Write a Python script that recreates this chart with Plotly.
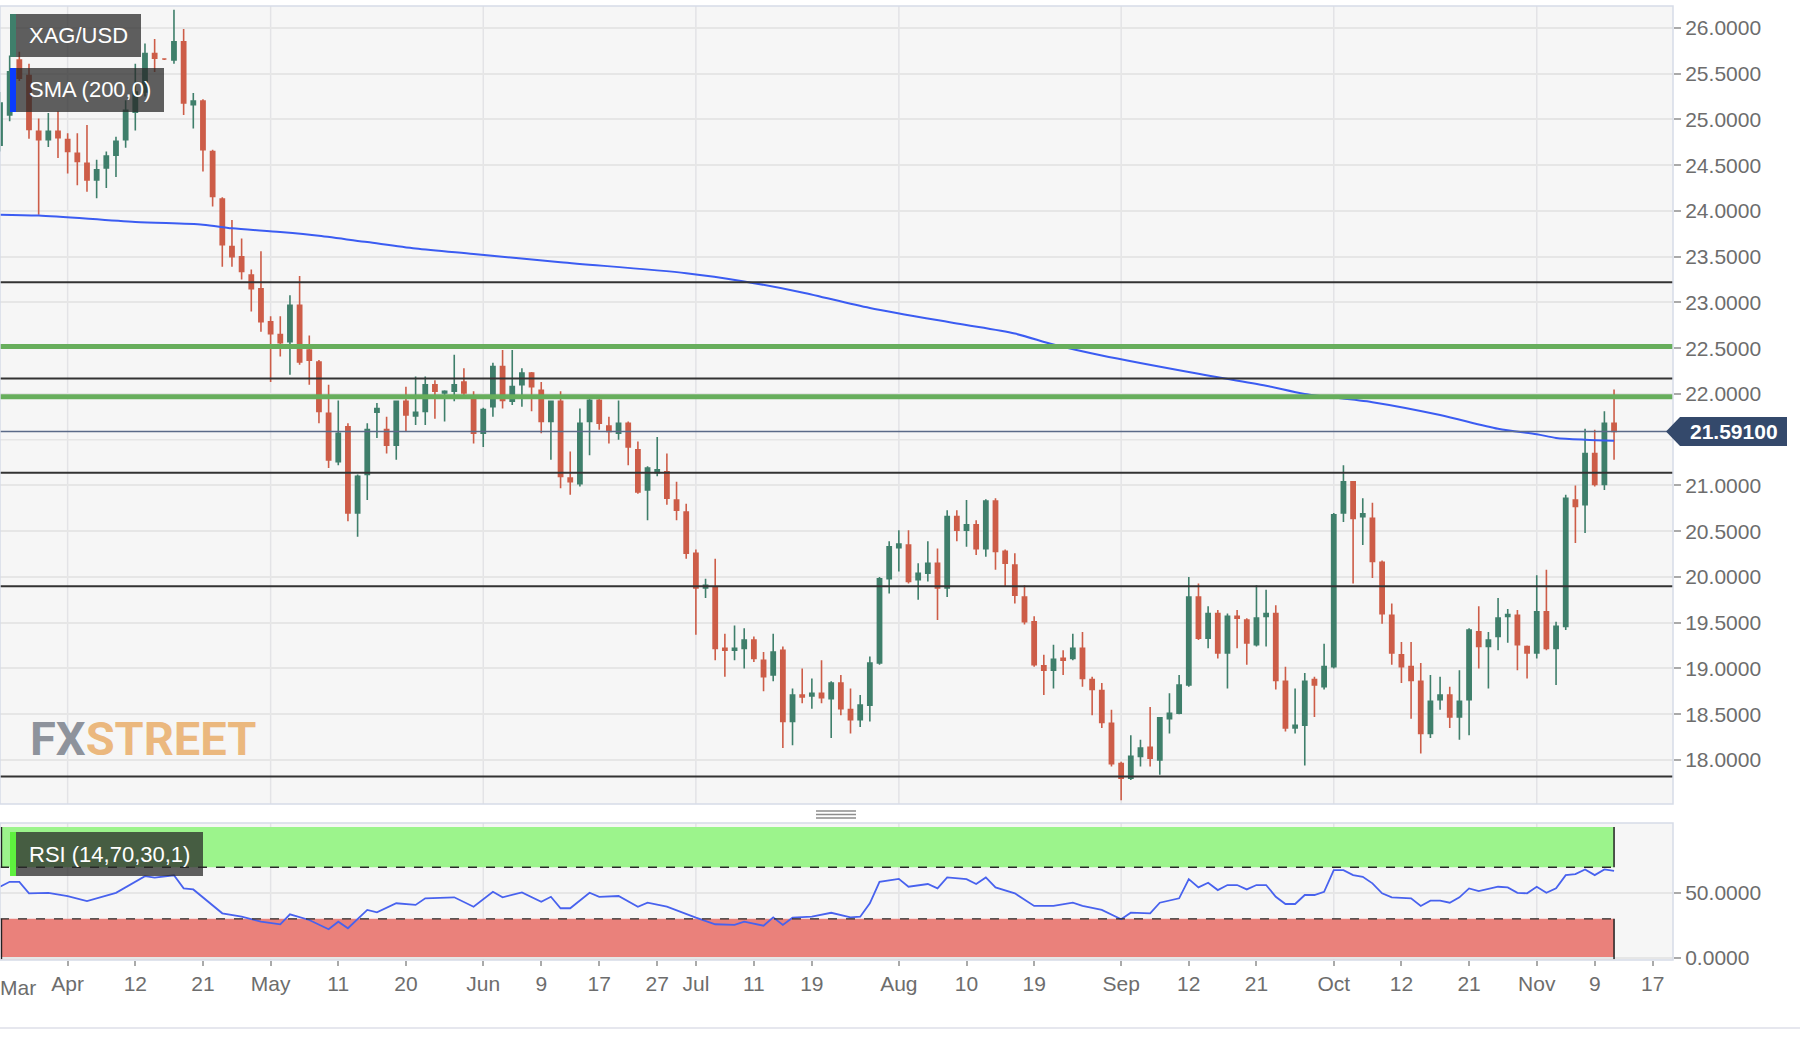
import plotly.graph_objects as go
import pandas as pd

# ---------------- data ----------------
start_date = "2022-03-23"
end_date = "2022-11-18"
dates = pd.bdate_range(start_date, end_date)          # weekday categories

open_ = [24.72, 25.05, 25.65, 25.48, 24.87, 24.78, 24.87, 24.78, 24.63, 24.52,
         24.34, 24.47, 24.61, 24.78, 25.08, 25.30, 25.72, 25.66, 25.65, 25.85,
         25.16, 25.20, 24.65, 24.13, 23.61, 23.50, 23.30, 23.15, 22.79, 22.65,
         22.57, 22.97, 22.48, 22.35, 21.79, 21.26, 21.64, 20.70, 21.12, 21.80,
         21.61, 21.44, 21.92, 21.76, 21.81, 22.10, 22.01, 22.03, 22.13, 21.95,
         21.57, 21.86, 22.30, 21.92, 22.10, 22.23, 22.04, 21.70, 21.92, 21.08,
         21.02, 21.70, 21.93, 21.65, 21.57, 21.68, 21.39, 20.95, 21.14, 21.15,
         20.84, 20.71, 20.26, 19.88, 19.89, 19.22, 19.20, 19.22, 19.31, 19.09,
         18.93, 19.20, 18.42, 18.71, 18.70, 18.73, 18.67, 18.84, 18.55, 18.44,
         18.60, 19.06, 19.98, 20.32, 20.35, 19.97, 20.04, 20.15, 19.88, 20.66,
         20.51, 20.57, 20.31, 20.83, 20.28, 20.13, 19.78, 19.51, 19.03, 18.98,
         19.11, 19.11, 19.22, 18.88, 18.76, 18.40, 17.96, 17.80, 18.04, 18.14,
         18.00, 18.45, 18.51, 18.82, 19.78, 19.33, 19.60, 19.17, 19.57, 19.53,
         19.26, 19.57, 19.60, 18.86, 18.35, 18.38, 18.88, 18.80, 19.02, 20.70,
         21.04, 20.66, 20.64, 20.16, 19.58, 19.15, 19.02, 18.86, 18.29, 18.66,
         18.71, 18.47, 18.66, 19.40, 19.24, 19.35, 19.57, 19.58, 19.24, 19.17,
         19.62, 19.22, 19.46, 20.84, 20.79, 21.35, 21.01, 21.68]
high = [25.30, 25.70, 25.74, 25.61, 25.01, 25.07, 25.09, 24.85, 24.85, 24.94,
        24.56, 24.65, 24.81, 25.21, 25.61, 25.83, 25.88, 25.67, 26.20, 25.99,
        25.29, 25.22, 24.67, 24.15, 23.90, 23.70, 23.36, 23.56, 22.85, 22.85,
        23.08, 23.29, 22.64, 22.37, 22.10, 21.93, 21.68, 21.12, 21.68, 21.90,
        21.75, 21.93, 22.08, 22.19, 22.19, 22.15, 22.04, 22.43, 22.28, 22.03,
        21.85, 22.34, 22.48, 22.48, 22.28, 22.24, 22.13, 21.93, 22.03, 21.37,
        21.84, 21.95, 21.95, 21.75, 21.93, 21.70, 21.48, 21.21, 21.53, 21.35,
        21.04, 20.80, 20.30, 19.98, 20.20, 19.38, 19.47, 19.44, 19.35, 19.18,
        19.38, 19.24, 18.78, 19.00, 18.89, 19.09, 18.86, 18.93, 18.78, 18.71,
        19.13, 20.00, 20.39, 20.51, 20.51, 20.15, 20.39, 20.31, 20.73, 20.73,
        20.84, 20.62, 20.85, 20.86, 20.30, 20.26, 19.91, 19.57, 19.15, 19.26,
        19.20, 19.38, 19.40, 18.91, 18.84, 18.55, 17.98, 18.27, 18.22, 18.58,
        18.47, 18.73, 18.93, 20.00, 19.93, 19.68, 19.64, 19.60, 19.64, 19.55,
        19.91, 19.86, 19.69, 19.02, 18.78, 18.95, 18.91, 19.27, 20.70, 21.22,
        21.05, 20.86, 20.81, 20.18, 19.71, 19.29, 19.29, 19.06, 18.93, 18.91,
        18.80, 18.98, 19.44, 19.68, 19.40, 19.77, 19.65, 19.64, 19.25, 20.02,
        20.08, 19.51, 20.90, 21.00, 21.62, 21.61, 21.81, 22.05]
low = [24.65, 24.98, 25.42, 24.79, 23.96, 24.70, 24.58, 24.41, 24.28, 24.21,
       24.14, 24.25, 24.37, 24.69, 24.88, 25.25, 25.52, 25.65, 25.61, 25.05,
       24.90, 24.43, 24.05, 23.39, 23.39, 23.25, 22.90, 22.68, 22.13, 22.41,
       22.21, 22.32, 22.10, 21.68, 21.19, 21.22, 20.61, 20.44, 20.84, 21.52,
       21.35, 21.28, 21.59, 21.66, 21.66, 21.73, 21.70, 21.92, 21.97, 21.46,
       21.42, 21.75, 21.84, 21.88, 21.86, 21.81, 21.57, 21.28, 20.97, 20.90,
       20.99, 21.33, 21.61, 21.46, 21.50, 21.22, 20.91, 20.62, 21.10, 20.79,
       20.62, 20.20, 19.37, 19.77, 19.09, 18.91, 19.09, 19.00, 19.07, 18.75,
       18.86, 18.13, 18.16, 18.62, 18.56, 18.62, 18.24, 18.49, 18.29, 18.36,
       18.42, 19.04, 19.82, 20.06, 19.93, 19.75, 19.95, 19.53, 19.78, 20.39,
       20.33, 20.24, 20.22, 20.08, 19.89, 19.71, 19.48, 19.02, 18.71, 18.78,
       18.93, 19.09, 18.80, 18.49, 18.35, 17.93, 17.56, 17.78, 17.93, 17.93,
       17.84, 18.29, 18.50, 18.80, 19.31, 19.22, 19.11, 18.78, 19.22, 19.04,
       19.24, 19.24, 18.77, 18.31, 18.29, 17.94, 18.47, 18.77, 19.00, 20.60,
       19.93, 20.35, 19.99, 19.49, 19.04, 18.84, 18.45, 18.07, 18.24, 18.55,
       18.35, 18.22, 18.27, 19.00, 18.78, 19.20, 19.28, 18.98, 18.89, 19.11,
       19.20, 18.82, 19.42, 20.37, 20.48, 20.99, 20.95, 21.28]
close = [25.18, 25.52, 25.45, 24.89, 24.78, 24.87, 24.80, 24.65, 24.54, 24.34,
         24.45, 24.60, 24.76, 25.10, 25.30, 25.72, 25.67, 25.66, 25.85, 25.18,
         25.20, 24.67, 24.16, 23.63, 23.50, 23.34, 23.15, 22.79, 22.66, 22.56,
         22.97, 22.35, 22.37, 21.81, 21.28, 21.57, 20.70, 21.10, 21.61, 21.84,
         21.44, 21.92, 21.77, 21.80, 22.10, 22.03, 22.03, 22.10, 22.01, 21.57,
         21.83, 22.30, 21.93, 22.08, 22.23, 22.08, 21.70, 21.92, 21.10, 21.04,
         21.68, 21.93, 21.68, 21.59, 21.68, 21.42, 20.93, 21.19, 21.17, 20.86,
         20.73, 20.26, 19.88, 19.91, 19.22, 19.20, 19.22, 19.31, 19.11, 18.91,
         19.18, 18.42, 18.71, 18.69, 18.73, 18.68, 18.84, 18.56, 18.44, 18.60,
         19.06, 19.98, 20.33, 20.36, 19.95, 20.04, 20.15, 19.88, 20.66, 20.51,
         20.57, 20.31, 20.83, 20.28, 20.15, 19.80, 19.51, 19.04, 18.98, 19.10,
         19.09, 19.22, 18.89, 18.77, 18.41, 17.96, 17.80, 18.04, 18.13, 18.02,
         18.46, 18.51, 18.82, 19.78, 19.33, 19.60, 19.17, 19.57, 19.55, 19.28,
         19.55, 19.60, 18.87, 18.35, 18.38, 18.86, 18.82, 19.02, 20.68, 21.04,
         20.64, 20.69, 20.17, 19.60, 19.17, 19.02, 18.87, 18.29, 18.64, 18.71,
         18.47, 18.64, 19.42, 19.24, 19.31, 19.55, 19.59, 19.26, 19.17, 19.62,
         19.22, 19.46, 20.86, 20.77, 21.35, 21.01, 21.68, 21.591]

# SMA(200) read at selected candles (candle index, value)
sma_idx = [0, 4, 14, 21, 24, 29, 33, 38, 43, 49, 58, 71, 77, 83, 90, 99, 105,
           109, 114, 124, 131, 135, 142, 149, 155, 159, 161, 164, 167]
sma_val = [23.96, 23.95, 23.88, 23.85, 23.81, 23.77, 23.73, 23.66, 23.59, 23.53,
           23.44, 23.32, 23.23, 23.11, 22.94, 22.77, 22.66, 22.54, 22.42, 22.22,
           22.09, 22.00, 21.91, 21.77, 21.62, 21.56, 21.52, 21.50, 21.49]

# RSI(14) read at selected candles
rsi_idx = [0, 1, 2, 3, 5, 7, 9, 12, 15, 16, 18, 19, 20, 23, 25, 27, 29, 30, 32,
           34, 35, 36, 38, 39, 41, 43, 44, 47, 49, 51, 52, 54, 56, 57, 58, 59,
           61, 62, 64, 66, 67, 69, 72, 74, 76, 77, 79, 80, 81, 82, 84, 86, 88,
           89, 90, 91, 93, 94, 96, 97, 98, 100, 101, 102, 103, 105, 107, 109,
           111, 112, 114, 116, 117, 119, 120, 122, 123, 124, 125, 126, 127, 128,
           129, 130, 131, 132, 133, 134, 135, 136, 137, 138, 139, 140, 141, 142,
           143, 144, 146, 147, 148, 149, 150, 151, 152, 153, 155, 156, 157, 158,
           159, 160, 161, 162, 163, 164, 165, 166, 167]
rsi_val = [54.9, 58.7, 58.7, 49.8, 50.2, 47.7, 43.8, 50.2, 63.1, 62.0, 63.8, 53.6,
           52.8, 34.3, 31.7, 27.8, 25.8, 33.5, 29.1, 21.9, 27.8, 22.7, 36.9, 35.1,
           42.1, 40.8, 45.9, 46.7, 39.4, 51.0, 46.7, 50.5, 43.3, 47.1, 38.2, 38.2,
           50.2, 47.1, 47.7, 39.4, 42.5, 39.4, 30.9, 25.8, 25.3, 27.8, 24.7, 31.2,
           25.3, 30.9, 31.7, 34.7, 31.2, 31.7, 42.0, 58.7, 61.0, 54.9, 57.0, 53.6,
           62.1, 60.8, 57.0, 62.1, 54.4, 49.8, 40.0, 40.0, 42.5, 40.0, 36.9, 29.7,
           34.8, 34.3, 42.5, 45.9, 60.8, 54.4, 58.0, 52.3, 56.2, 56.2, 52.8, 56.2,
           56.2, 47.1, 41.5, 41.5, 48.5, 48.5, 51.0, 67.8, 67.8, 63.9, 62.6, 57.5,
           49.8, 46.7, 45.9, 40.0, 44.1, 44.1, 42.5, 46.7, 53.6, 51.5, 54.9, 54.4,
           50.2, 49.8, 54.9, 50.2, 53.6, 63.9, 64.7, 68.3, 63.9, 68.3, 67.2]

tick_dates = ["2022-04-01", "2022-04-12", "2022-04-21", "2022-05-02", "2022-05-11",
              "2022-05-20", "2022-06-01", "2022-06-09", "2022-06-17", "2022-06-27",
              "2022-07-01", "2022-07-11", "2022-07-19", "2022-08-01", "2022-08-10",
              "2022-08-19", "2022-09-01", "2022-09-12", "2022-09-21", "2022-10-03",
              "2022-10-12", "2022-10-21", "2022-11-01", "2022-11-09", "2022-11-17"]
tick_text = ["Apr", "12", "21", "May", "11", "20", "Jun", "9", "17", "27", "Jul",
             "11", "19", "Aug", "10", "19", "Sep", "12", "21", "Oct", "12", "21",
             "Nov", "9", "17"]
month_dates = ["2022-04-01", "2022-05-02", "2022-06-01", "2022-07-01",
               "2022-08-01", "2022-09-01", "2022-10-03", "2022-11-01"]

# price-axis labels (21.5 sits under the last-price tag, so it is not labelled)
price_ticks = [18.0, 18.5, 19.0, 19.5, 20.0, 20.5, 21.0, 22.0, 22.5, 23.0,
               23.5, 24.0, 24.5, 25.0, 25.5, 26.0]
hidden_grid = [21.5]

black_levels = [23.22, 22.17, 21.14, 19.90, 17.82]
green_levels = [22.52, 21.97]
last_price = 21.591
rsi_upper, rsi_lower = 70, 30

# ---------------- geometry helpers ----------------
W, H = 1800, 1046
ML, MR, MT, MB = 0, 127, 6, 86
PW, PH = W - ML - MR, H - MT - MB


def px(x):
    return (x - ML) / PW


def py(y):
    return (H - MB - y) / PH


pos = {d.strftime("%Y-%m-%d"): i for i, d in enumerate(dates)}
tickvals = [pos[d] for d in tick_dates]
monthvals = [pos[d] for d in month_dates]
xs = list(range(len(close)))
last_i = xs[-1]

FONT = "Liberation Sans, Arial, Helvetica, sans-serif"
GREEN_C = "#3f7f6b"
RED_C = "#cd5d48"

fig = go.Figure()

fig.add_trace(go.Candlestick(
    x=xs, open=open_, high=high, low=low, close=close,
    increasing=dict(line=dict(color=GREEN_C, width=1.6), fillcolor=GREEN_C),
    decreasing=dict(line=dict(color=RED_C, width=1.6), fillcolor=RED_C),
    whiskerwidth=0, xaxis="x", yaxis="y", showlegend=False, hoverinfo="skip"))

fig.add_trace(go.Scatter(x=sma_idx, y=sma_val, mode="lines",
                         line=dict(color="#3b5cf2", width=2, shape="spline", smoothing=0.8),
                         xaxis="x", yaxis="y", showlegend=False, hoverinfo="skip"))

fig.add_trace(go.Scatter(x=rsi_idx, y=rsi_val, mode="lines",
                         line=dict(color="#4862ee", width=1.8),
                         xaxis="x2", yaxis="y2", showlegend=False, hoverinfo="skip"))

shapes = []
# month grid lines
for m in monthvals:
    for yr in ("y domain", "y2 domain"):
        shapes.append(dict(type="line", xref="x", yref=yr, x0=m, x1=m, y0=0, y1=1,
                           line=dict(color="#e3e3e6", width=1.5), layer="below"))
for g in hidden_grid:
    shapes.append(dict(type="line", xref="paper", yref="y", x0=0, x1=1, y0=g, y1=g,
                       line=dict(color="#e6e6e6", width=1.5), layer="below"))
# RSI bands
shapes.append(dict(type="rect", xref="x", yref="y2", x0=0, x1=last_i, y0=rsi_upper, y1=101.2,
                   fillcolor="#9cf48c", line=dict(width=0), layer="below"))
shapes.append(dict(type="rect", xref="x", yref="y2", x0=0, x1=last_i, y0=-1.3, y1=rsi_lower,
                   fillcolor="#ea817b", line=dict(width=0), layer="below"))
for lv in (rsi_upper, rsi_lower):
    shapes.append(dict(type="line", xref="x", yref="y2", x0=0, x1=last_i, y0=lv, y1=lv,
                       line=dict(color="#2a2a2a", width=1.3, dash="dash")))
for xv in (0.15, last_i):
    shapes.append(dict(type="line", xref="x", yref="y2", x0=xv, x1=xv, y0=rsi_upper, y1=101.2,
                       line=dict(color="#222", width=1.5)))
    shapes.append(dict(type="line", xref="x", yref="y2", x0=xv, x1=xv, y0=-1.3, y1=rsi_lower,
                       line=dict(color="#222", width=1.5)))
# level lines
for lv in green_levels:
    shapes.append(dict(type="line", xref="paper", yref="y", x0=0, x1=1, y0=lv, y1=lv,
                       line=dict(color="#67ae5c", width=5)))
for lv in black_levels:
    shapes.append(dict(type="line", xref="paper", yref="y", x0=0, x1=1, y0=lv, y1=lv,
                       line=dict(color="#333333", width=2)))
shapes.append(dict(type="line", xref="paper", yref="y", x0=0, x1=1, y0=last_price, y1=last_price,
                   line=dict(color="#5a6a88", width=1.5)))
# pane borders
for yr in ("y domain", "y2 domain"):
    shapes.append(dict(type="rect", xref="paper", yref=yr, x0=0, x1=1, y0=0, y1=1,
                       line=dict(color="#d6dbe7", width=1.5)))
# price tag
th = 14.5 / 91.5
shapes.append(dict(type="path", xref="paper", yref="y",
                   path=(f"M {px(1666)},{last_price} L {px(1680)},{last_price + th} "
                         f"L {px(1787)},{last_price + th} L {px(1787)},{last_price - th} "
                         f"L {px(1680)},{last_price - th} Z"),
                   fillcolor="#34496b", line=dict(width=0)))
# legend-like label boxes
boxes = [((10, 14, 141, 57), GREEN_C), ((10, 68, 164, 112), "#0a3cff"),
         ((16, 832, 203, 876), "#5ef03e")]
for (x0, y0, x1, y1), c in boxes:
    shapes.append(dict(type="rect", xref="paper", yref="paper", x0=px(x0), x1=px(x1),
                       y0=py(y1), y1=py(y0), fillcolor="rgba(40,40,40,0.74)", line=dict(width=0)))
    sx0 = x0 if x0 == 10 else 10
    shapes.append(dict(type="rect", xref="paper", yref="paper", x0=px(sx0), x1=px(sx0 + 6),
                       y0=py(y1), y1=py(y0), fillcolor=c, line=dict(width=0)))
# separator handle
for yy in (811, 814.5, 818):
    shapes.append(dict(type="line", xref="paper", yref="paper", x0=px(816), x1=px(856),
                       y0=py(yy), y1=py(yy), line=dict(color="#8d8d8d", width=1.3)))
# bottom rule
shapes.append(dict(type="line", xref="paper", yref="paper", x0=0, x1=W / PW,
                   y0=py(1028), y1=py(1028), line=dict(color="#e6e7ee", width=2)))

annotations = [
    dict(xref="paper", yref="paper", x=px(27), y=py(35.5), xanchor="left", yanchor="middle",
         text="XAG/USD", showarrow=False, font=dict(family=FONT, size=22, color="white")),
    dict(xref="paper", yref="paper", x=px(27), y=py(90), xanchor="left", yanchor="middle",
         text="SMA (200,0)", showarrow=False, font=dict(family=FONT, size=22, color="white")),
    dict(xref="paper", yref="paper", x=px(27), y=py(854), xanchor="left", yanchor="middle",
         text="RSI (14,70,30,1)", showarrow=False, font=dict(family=FONT, size=22, color="white")),
    dict(xref="paper", yref="y", x=px(1733.5), y=last_price, xanchor="center", yanchor="middle",
         text="<b>21.59100</b>", showarrow=False, font=dict(family=FONT, size=21, color="white")),
    dict(xref="paper", yref="paper", x=px(18), y=py(987), xanchor="center", yanchor="middle",
         text="Mar", showarrow=False, font=dict(family=FONT, size=21, color="#6d6d6d")),
    dict(xref="paper", yref="paper", x=px(28), y=py(738), xanchor="left", yanchor="middle",
         text='<b><span style="color:#8e939c">FX</span><span style="color:#ebb87e">STREET</span></b>',
         showarrow=False,
         font=dict(family="Roboto, Liberation Sans, sans-serif", size=47)),
]

main_dom = [py(804), 1]
rsi_dom = [0, py(823)]

axis_font = dict(family=FONT, size=21, color="#6d6d6d")
fig.update_layout(
    width=W, height=H, margin=dict(l=ML, r=MR, t=MT, b=MB),
    paper_bgcolor="white", plot_bgcolor="#f6f6f6",
    showlegend=False, hovermode=False, boxgap=0.38,
    xaxis=dict(domain=[0, 1], range=[0, PW / 9.665], anchor="y", showticklabels=False,
               showgrid=False, zeroline=False, rangeslider=dict(visible=False), ticks="",
               matches="x2"),
    yaxis=dict(domain=main_dom, side="right", range=[17.519, 26.240], tickmode="array",
               tickvals=price_ticks, tickformat=".4f", ticks="outside", ticklen=7,
               tickwidth=1.5, tickcolor="#aaaaaa", tickfont=axis_font, gridcolor="#e6e6e6",
               gridwidth=1.5, zeroline=False, anchor="x"),
    xaxis2=dict(domain=[0, 1], range=[0, PW / 9.665], anchor="y2", tickmode="array",
                tickvals=tickvals, ticktext=tick_text, ticks="outside", ticklen=5,
                tickwidth=1.5, tickcolor="#aaaaaa", tickfont=axis_font, showgrid=False,
                zeroline=False),
    yaxis2=dict(domain=rsi_dom, side="right", range=[-1.9, 104.3], tickmode="array",
                tickvals=[0, 50], tickformat=".4f", ticks="outside", ticklen=7, tickwidth=1.5,
                tickcolor="#aaaaaa", tickfont=axis_font, gridcolor="#e6e6e6", gridwidth=1.5,
                zeroline=False, anchor="x2"),
    shapes=shapes, annotations=annotations,
)

fig.write_html("out.html")
